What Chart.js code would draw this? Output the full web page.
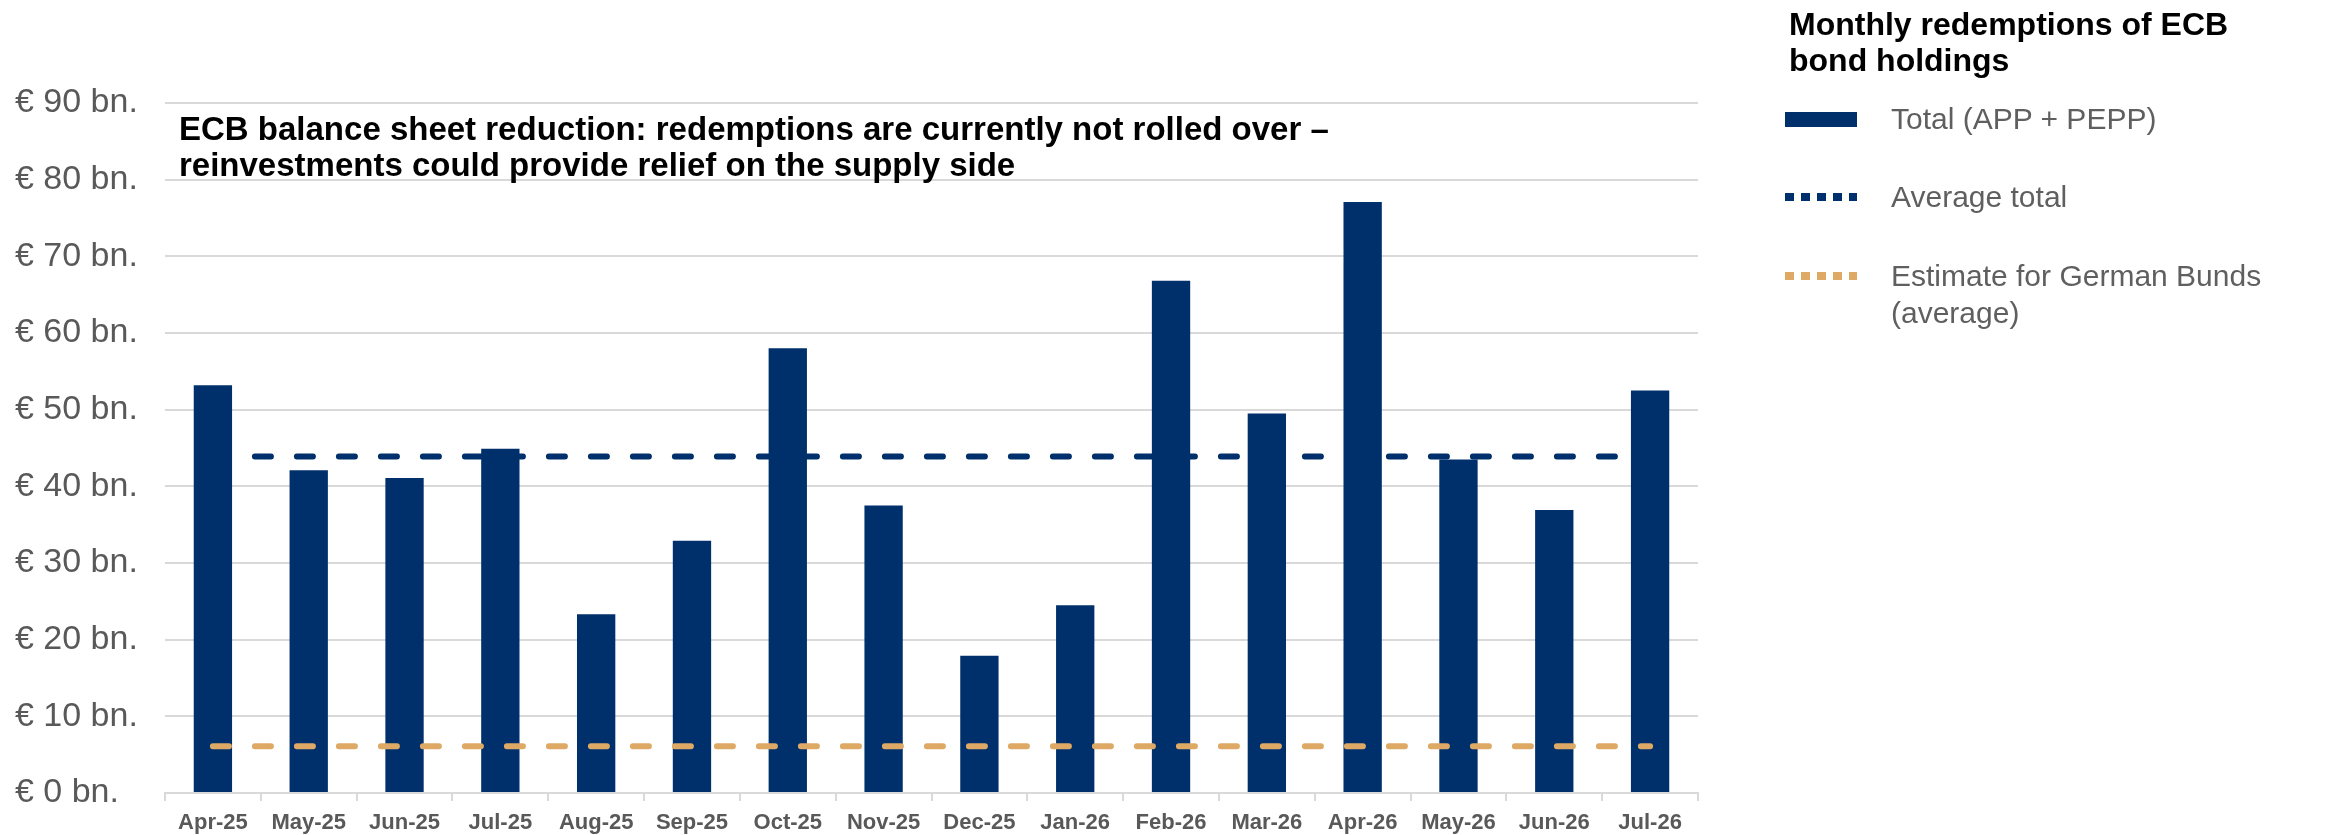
<!DOCTYPE html>
<html>
<head>
<meta charset="utf-8">
<script src="https://cdn.jsdelivr.net/npm/chart.js@4.4.1/dist/chart.umd.min.js"></script>
<style>
    html, body { margin: 0; padding: 0; background: #fff; }
    #wrap { position: relative; width: 2338px; height: 835px; overflow: hidden; }
    #chart { position: absolute; left: 0; top: 0; }
    #title {
        position: absolute; left: 179px; top: 111px;
        font: bold 33px "Liberation Sans", Arial, sans-serif;
        line-height: 36px; color: #000;
    }
    #legend { position: absolute; left: 0; top: 0; font-family: "Liberation Sans", Arial, sans-serif; }
    #legend .head {
        position: absolute; left: 1789px; top: 6px; width: 540px;
        font-weight: bold; font-size: 32px; line-height: 36px; color: #000;
    }
    #legend .sym { position: absolute; left: 1785px; width: 72px; }
    #legend .txt {
        position: absolute; left: 1891px; width: 440px;
        font-size: 30px; line-height: 37px; color: #5f5f5f;
    }
</style>
</head>
<body>
<div id="wrap">
    <canvas id="chart" width="2338" height="835"></canvas>
    <div id="title"></div>
    <div id="legend"></div>
</div>
<script>
const months = ["Apr-25", "May-25", "Jun-25", "Jul-25", "Aug-25", "Sep-25", "Oct-25", "Nov-25",
    "Dec-25", "Jan-26", "Feb-26", "Mar-26", "Apr-26", "May-26", "Jun-26", "Jul-26"];
const totalRedemptions = [53.2, 42.1, 41.1, 44.9, 23.3, 32.9, 58.0, 37.5,
    17.9, 24.5, 66.8, 49.5, 77.1, 43.5, 36.9, 52.5];
const averageTotal = [43.9, 43.9, 43.9, 43.9, 43.9, 43.9, 43.9, 43.9,
    43.9, 43.9, 43.9, 43.9, 43.9, 43.9, 43.9, 43.9];
const bundEstimate = [6.1, 6.1, 6.1, 6.1, 6.1, 6.1, 6.1, 6.1,
    6.1, 6.1, 6.1, 6.1, 6.1, 6.1, 6.1, 6.1];
const yTicks = [0, 10, 20, 30, 40, 50, 60, 70, 80, 90];

const seriesLabels = ["Total (APP + PEPP)", "Average total", "Estimate for German Bunds (average)"];
const chartTitle = ["ECB balance sheet reduction: redemptions are currently not rolled over \u2013",
    "reinvestments could provide relief on the supply side"];
const legendTitle = ["Monthly redemptions of ECB", "bond holdings"];

const navy = "#00306b";
const orange = "#dea965";
const grey = "#595959";
const font = "'Liberation Sans', Arial, sans-serif";

document.querySelector("#title").innerHTML = chartTitle.join("<br>");

// legend, built by hand so it can sit in the right margin like the original
const legend = document.querySelector("#legend");
const addEl = (cls, top, height, css, html) => {
    const el = document.createElement("div");
    el.className = cls;
    el.style.top = top + "px";
    if (height) el.style.height = height + "px";
    if (css) el.style.background = css;
    if (html) el.innerHTML = html;
    legend.appendChild(el);
};
const dots = (c) => "repeating-linear-gradient(to right, " + c + " 0 9px, transparent 9px 16px)";

addEl("head", 6, 0, null, legendTitle.join("<br>"));
addEl("sym", 112, 15, navy);
addEl("txt", 100, 0, null, seriesLabels[0]);
addEl("sym", 193, 8, dots(navy));
addEl("txt", 178, 0, null, seriesLabels[1]);
addEl("sym", 272, 8, dots(orange));
addEl("txt", 257, 0, null, "Estimate for German Bunds<br>(average)");

const ctx = document.querySelector("#chart");

new Chart(ctx, {
    data: {
        labels: months,
        datasets: [{
            type: "line",
            label: seriesLabels[1],
            data: averageTotal,
            borderColor: navy,
            borderWidth: 6,
            borderDash: [16, 26],
            borderCapStyle: "round",
            pointRadius: 0,
            order: 0
        }, {
            type: "line",
            label: seriesLabels[2],
            data: bundEstimate,
            borderColor: orange,
            borderWidth: 6,
            borderDash: [16, 26],
            borderCapStyle: "round",
            pointRadius: 0,
            order: 0
        }, {
            type: "bar",
            label: seriesLabels[0],
            data: totalRedemptions,
            backgroundColor: navy,
            barPercentage: 0.4,
            categoryPercentage: 1,
            order: 1
        }]
    },
    options: {
        responsive: false,
        animation: false,
        layout: {
            padding: { left: 15, right: 640, top: 103, bottom: 0 }
        },
        scales: {
            y: {
                min: 0,
                max: 90,
                afterBuildTicks: (scale) => {
                    scale.ticks = yTicks.map(v => ({ value: v }));
                },
                afterFit: (scale) => {
                    scale.width = 150;
                },
                border: { display: false },
                grid: { color: "#d9d9d9", lineWidth: 2, drawTicks: false },
                ticks: {
                    crossAlign: "far",
                    color: grey,
                    font: { family: font, size: 34 },
                    callback: (v) => "\u20ac " + v + " bn."
                }
            },
            x: {
                afterFit: (scale) => {
                    scale.height = 42;
                },
                border: { display: true, color: "#d9d9d9", width: 2 },
                grid: { drawOnChartArea: false, drawTicks: true, tickLength: 8, color: "#d9d9d9", lineWidth: 2 },
                ticks: {
                    color: grey,
                    autoSkip: false,
                    maxRotation: 0,
                    padding: 9,
                    font: { family: font, size: 22, weight: "bold" }
                }
            }
        },
        plugins: {
            legend: { display: false },
            tooltip: { enabled: false }
        }
    }
});
</script>
</body>
</html>
